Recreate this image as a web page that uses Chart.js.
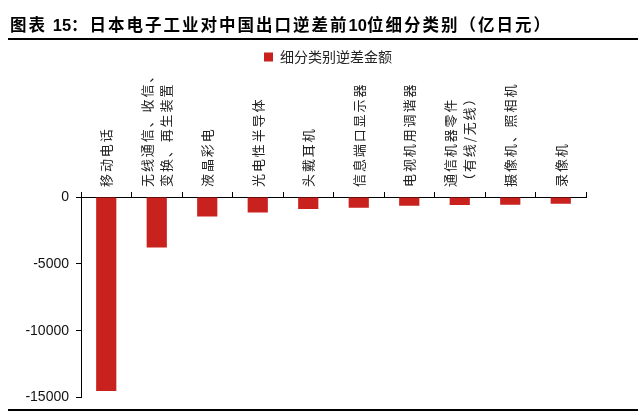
<!DOCTYPE html>
<html>
<head>
<meta charset="utf-8">
<script src="https://cdn.jsdelivr.net/npm/chart.js@4.4.1/dist/chart.umd.min.js"></script>
<style>
  html, body { margin: 0; padding: 0; background: #fff; }
  #wrap { position: relative; width: 640px; height: 413px; overflow: hidden; }
  #title { position: absolute; left: 10px; top: 14px; font-family: "Noto Sans CJK SC", sans-serif; font-weight: 700; font-size: 16.5px; letter-spacing: 2px; color: #000; white-space: nowrap; line-height: 20px; }
  #title .num { font-family: "Liberation Sans", Arial, sans-serif; font-weight: 700; letter-spacing: 0; }
  .rule { position: absolute; left: 8px; width: 630px; height: 2px; background: #000; }
  canvas { position: absolute; left: 0; top: 0; }
</style>
</head>
<body>
<div id="wrap">
  <canvas id="c" width="640" height="413"></canvas>
  <div id="title">图表 <span class="num">15</span>：日本电子工业对中国出口逆差前<span class="num">10</span>位细分类别（亿日元）</div>
  <div class="rule" style="top:38px"></div>
  <div class="rule" style="top:409px"></div>
</div>
<script>
const categories = [
  "移动电话",
  ["无线通信、收信、", "变换、再生装置"],
  "液晶彩电",
  "光电性半导体",
  "头戴耳机",
  "信息端口显示器",
  "电视机用调谐器",
  ["通信机器零件", "（有线/无线）"],
  "摄像机、照相机",
  "录像机"
];
const seriesName = "细分类别逆差金额";
const deficitValues = [-14500, -3780, -1450, -1150, -900, -800, -650, -600, -580, -500];
const yTickValues = [0, -5000, -10000, -15000];

const BAR_COLOR = "#C9211E";

const verticalLabels = {
  id: "verticalLabels",
  afterDraw(chart) {
    const xs = chart.scales.x, ys = chart.scales.y;
    const ctx = chart.ctx;
    const baseY = ys.getPixelForValue(0) - 10;
    ctx.save();
    ctx.fillStyle = "#222";
    ctx.font = '13px "Noto Sans CJK SC", sans-serif';
    ctx.letterSpacing = "1.9px";
    ctx.textAlign = "left";
    ctx.textBaseline = "middle";
    categories.forEach((lab, i) => {
      const lines = Array.isArray(lab) ? lab : [lab];
      const x = xs.getPixelForValue(i);
      ctx.save();
      ctx.translate(x, baseY);
      ctx.rotate(-Math.PI / 2);
      const gap = 19;
      lines.forEach((ln, j) => {
        ctx.fillText(ln, 0, (j - (lines.length - 1) / 2) * gap);
      });
      ctx.restore();
    });
    ctx.restore();
  }
};

new Chart(document.getElementById("c"), {
  type: "bar",
  data: {
    labels: categories,
    datasets: [{
      label: seriesName,
      data: deficitValues,
      backgroundColor: BAR_COLOR,
      borderWidth: 0,
      barPercentage: 0.4,
      categoryPercentage: 1.0
    }]
  },
  options: {
    responsive: false,
    animation: false,
    layout: { padding: { top: 40, left: 16, right: 0, bottom: 15 } },
    plugins: {
      legend: {
        display: true,
        position: "top",
        align: "center",
        labels: {
          boxWidth: 9,
          boxHeight: 9,
          padding: 10,
          color: "#222",
          font: { family: '"Noto Sans CJK SC", sans-serif', size: 14 }
        }
      },
      tooltip: { enabled: false },
      title: { display: false }
    },
    scales: {
      x: {
        position: "top",
        offset: true,
        grid: { display: true, offset: true, drawOnChartArea: false, drawTicks: true, tickLength: 5, color: "#000", lineWidth: 1 },
        border: { display: true, color: "#000", width: 1 },
        ticks: { display: false },
        afterFit(scale) { scale.height = 123; }
      },
      y: {
        position: "left",
        min: -15000,
        max: 0,
        afterBuildTicks(scale) { scale.ticks = yTickValues.map(v => ({ value: v })); },
        grid: { display: true, drawOnChartArea: false, drawTicks: true, tickLength: 5, color: "#000", lineWidth: 1 },
        border: { display: true, color: "#000", width: 1 },
        ticks: {
          padding: 7,
          color: "#111",
          font: { family: '"Liberation Sans", Arial, sans-serif', size: 14 },
          callback: (v) => String(v)
        },
        afterFit(scale) { scale.width = 65; }
      },
      yRight: {
        position: "right",
        display: true,
        grid: { display: false },
        border: { display: false },
        ticks: { display: false },
        afterFit(scale) { scale.width = 54; }
      }
    }
  },
  plugins: [verticalLabels]
});
</script>
</body>
</html>
